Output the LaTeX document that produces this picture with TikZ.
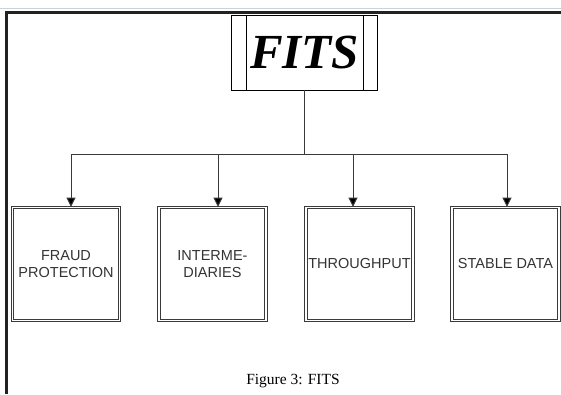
\documentclass[tikz,border=0pt]{standalone}
\usepackage{fontspec}
\setmainfont{Liberation Serif}
\newfontfamily\boxfont{Liberation Sans}
\usetikzlibrary{arrows.meta}
\definecolor{framegray}{HTML}{222222}
\definecolor{rulelight}{HTML}{C9D3DE}
\definecolor{boxline}{HTML}{3A3A3A}
\definecolor{boxtext}{HTML}{333333}
\tikzset{
  topicbox/.style={rectangle, draw=boxline, line width=1pt, double=white,
    double distance=1.3pt, minimum width=107pt, minimum height=113pt,
    inner sep=0pt, align=center, text=boxtext,
    font=\boxfont\fontsize{14.5}{17}\selectfont},
  rootbox/.style={rectangle, draw=black, line width=0.9pt,
    minimum width=146pt, minimum height=75pt, inner sep=0pt,
    font=\fontsize{49}{52}\selectfont\bfseries\itshape},
  link/.style={draw=boxline, line width=1pt},
  drop/.style={link, -{Triangle[width=9pt,length=9.5pt,fill=black]}}
}
\begin{document}
\begin{tikzpicture}[x=1pt,y=-1pt]
\useasboundingbox (0,0) rectangle (561,394);
% page frame
\draw[rulelight, line width=1.2pt] (0,8.5) -- (561,8.5);
\draw[framegray, line width=3pt] (5,12) -- (561,12);
\draw[framegray, line width=3pt] (6.5,12) -- (6.5,394);

% root
\node[rootbox] (fits) at (304.5,52.5) {FITS};
\draw[black, line width=0.9pt] ([xshift=15pt]fits.north west) -- ([xshift=15pt]fits.south west);
\draw[black, line width=0.9pt] ([xshift=-15pt]fits.north east) -- ([xshift=-15pt]fits.south east);

% children
\node[topicbox] (b1) at (66,264) {FRAUD\\PROTECTION};
\node[topicbox] (b2) at (212.5,264) {INTERME-\\DIARIES};
\node[topicbox] (b3) at (359.5,264) {THROUGHPUT};
\node[topicbox] (b4) at (505.5,264) {STABLE DATA};

% connectors
\coordinate (d1) at (71,154);
\coordinate (d2) at (218,154);
\coordinate (d3) at (353,154);
\coordinate (d4) at (507,154);
\draw[link] (fits.south) -- (fits.south |- d1);
\draw[link] (d1) -- (d4);
\draw[drop] (d1) -- (d1 |- b1.north);
\draw[drop] (d2) -- (d2 |- b2.north);
\draw[drop] (d3) -- (d3 |- b3.north);
\draw[drop] (d4) -- (d4 |- b4.north);

% caption
\node[font=\fontsize{15.5}{17}\selectfont] (cap) at (293,381) {Figure 3: FITS};
\end{tikzpicture}
\end{document}
